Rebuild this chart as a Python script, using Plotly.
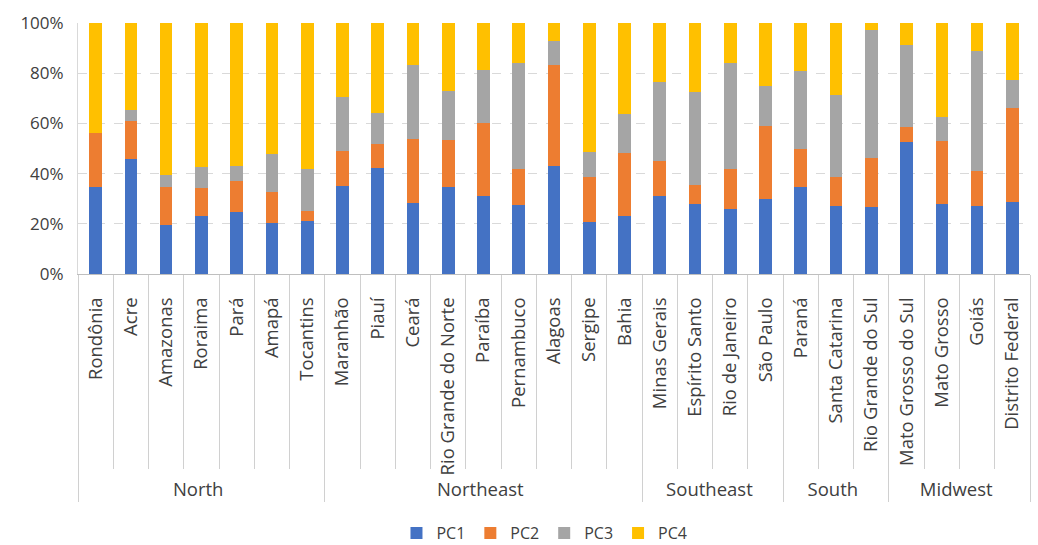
import plotly.graph_objects as go

regions = ["North"] * 7 + ["Northeast"] * 9 + ["Southeast"] * 4 + ["South"] * 3 + ["Midwest"] * 4
states = ["Rondônia", "Acre", "Amazonas", "Roraima", "Pará", "Amapá", "Tocantins",
          "Maranhão", "Piauí", "Ceará", "Rio Grande do Norte", "Paraíba", "Pernambuco",
          "Alagoas", "Sergipe", "Bahia",
          "Minas Gerais", "Espírito Santo", "Rio de Janeiro", "São Paulo",
          "Paraná", "Santa Catarina", "Rio Grande do Sul",
          "Mato Grosso do Sul", "Mato Grosso", "Goiás", "Distrito Federal"]

pc1 = [34.5, 45.7, 19.5, 23.0, 24.7, 20.2, 21.0,
       35.2, 42.4, 28.2, 34.5, 31.1, 27.4, 43.2, 20.6, 23.2,
       31.1, 27.8, 25.8, 29.7,
       34.8, 27.1, 26.7,
       52.6, 27.8, 27.1, 28.8]
pc2 = [21.7, 15.3, 15.0, 11.3, 12.2, 12.3, 4.1,
       13.9, 9.5, 25.5, 18.8, 29.2, 14.6, 40.2, 18.0, 25.1,
       13.9, 7.8, 15.9, 29.3,
       15.0, 11.5, 19.4,
       5.8, 25.3, 13.9, 37.3]
pc3 = [0.0, 4.5, 4.8, 8.5, 6.1, 15.3, 16.9,
       21.4, 12.1, 29.7, 19.6, 21.1, 42.1, 9.6, 10.1, 15.4,
       31.4, 37.0, 42.4, 16.0,
       31.1, 32.8, 51.0,
       32.8, 9.3, 47.8, 11.2]
pc4 = [43.8, 34.5, 60.7, 57.2, 57.0, 52.2, 58.0,
       29.5, 36.0, 16.6, 27.1, 18.6, 15.9, 7.0, 51.3, 36.3,
       23.6, 27.4, 15.9, 25.0,
       19.1, 28.6, 2.9,
       8.8, 37.6, 11.2, 22.7]

series_names = ["PC1", "PC2", "PC3", "PC4"]
colors = ["#4472C4", "#ED7D31", "#A5A5A5", "#FFC000"]
y_ticks = [0, 20, 40, 60, 80, 100]
y_labels = ["0%", "20%", "40%", "60%", "80%", "100%"]

fig = go.Figure()
for name, vals, col in zip(series_names, [pc1, pc2, pc3, pc4], colors):
    fig.add_trace(go.Bar(name=name, x=[regions, states], y=vals,
                         marker=dict(color=col, line=dict(width=0))))

font_family = "'Open Sans', sans-serif"
fig.update_layout(
    barmode="stack",
    bargap=0.64,
    width=1038, height=545,
    margin=dict(l=78, r=8, t=23, b=271, autoexpand=False),
    plot_bgcolor="white", paper_bgcolor="white",
    font=dict(family=font_family, size=17, color="#404040"),
    legend=dict(orientation="h", x=0.49, xanchor="center", y=-1.032, yanchor="middle",
                font=dict(size=16), itemwidth=30, traceorder="normal",
                tracegroupgap=0),
    showlegend=True,
)
fig.update_yaxes(range=[0, 100], tickvals=y_ticks, ticktext=y_labels,
                 showgrid=True, gridcolor="#D9D9D9", griddash="dash", gridwidth=1,
                 showline=True, linecolor="#D9D9D9", linewidth=1, automargin=False,
                 ticks="", zeroline=False, tickfont=dict(size=17), ticklabelstandoff=10)
fig.update_xaxes(type="multicategory", tickangle=-90, automargin=False,
                 showline=True, linecolor="#BFBFBF", linewidth=1,
                 ticks="outside", tickson="boundaries", ticklen=194, tickcolor="#D0D0D0",
                 showdividers=True, dividercolor="#D0D0D0", dividerwidth=1,
                 tickfont=dict(size=18.5), ticklabelstandoff=15)

fig.write_html("out.html")
